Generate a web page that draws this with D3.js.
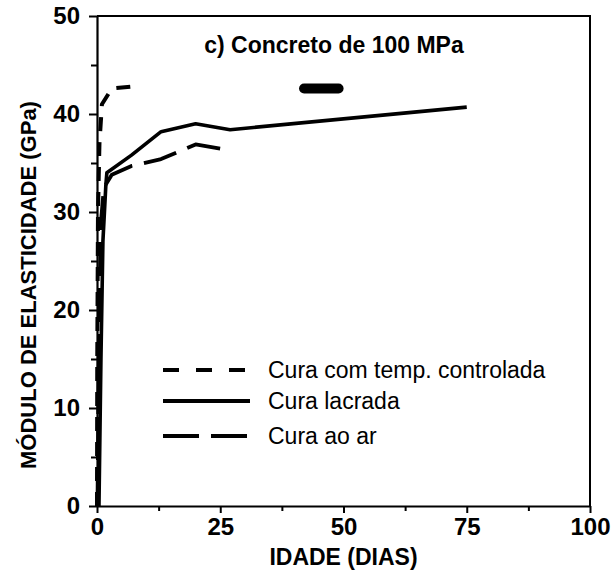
<!DOCTYPE html>
<html>
<head>
<meta charset="utf-8">
<script src="https://cdn.jsdelivr.net/npm/d3@7"></script>
<style>
  body { margin: 0; background: #fff; }
  svg text { font-family: "Liberation Sans", Arial, sans-serif; fill: #000; }
</style>
</head>
<body>
<div id="chart"></div>
<script>
// Values (days, GPa)
const controlledDays = [0, 0.05, 0.2, 0.5, 1, 3, 7];
const controlledE = [0, 15, 30, 37, 41, 42.6, 42.8];
const sealedDays = [0.4, 0.8, 1.2, 1.8, 2, 7, 13, 20, 27, 75];
const sealedE = [0, 15, 27, 32.8, 34, 35.8, 38.2, 39, 38.4, 40.7];
const airDays = [0.1, 0.4, 0.8, 1.4, 3, 7, 13, 20, 27];
const airE = [0, 18, 29, 32.5, 33.8, 34.7, 35.4, 36.9, 36.3];
// stray blob in the scan, around 45 days
const blobDays = [42, 49];
const blobE = [42.6, 42.6];

const xTicks = [0, 25, 50, 75, 100];
const xMinor = [12.5, 37.5, 62.5, 87.5];
const yTicks = [0, 10, 20, 30, 40, 50];
const yMinor = [5, 15, 25, 35, 45];

const legendLabels = ['Cura com temp. controlada', 'Cura lacrada', 'Cura ao ar'];

const WIDTH = 612;
const HEIGHT = 576;
const MARGIN = { left: 97, right: 22, top: 16, bottom: 70 };

const svg = d3.select('#chart')
  .append('svg')
  .attr('width', WIDTH)
  .attr('height', HEIGHT);

const x = d3.scaleLinear()
  .domain([0, 100])
  .range([MARGIN.left, WIDTH - MARGIN.right]);

const y = d3.scaleLinear()
  .domain([0, 50])
  .range([HEIGHT - MARGIN.bottom, MARGIN.top]);

// frame (top and right borders)
svg.append('path')
  .attr('d', `M${x(0)},${y(50)}H${x(100)}V${y(0)}`)
  .attr('fill', 'none')
  .attr('stroke', '#000')
  .attr('stroke-width', 2);

// axes
function styleAxis (g) {
  g.select('.domain').attr('stroke-width', 2.2);
  g.selectAll('.tick line').attr('stroke-width', 2);
  g.selectAll('.tick text')
    .style('font-size', '24px')
    .style('font-weight', 'bold');
}

svg.append('g')
  .attr('transform', `translate(0,${y(0)})`)
  .call(d3.axisBottom(x).tickValues(xTicks).tickSize(7).tickPadding(5).tickSizeOuter(0))
  .call(styleAxis);

svg.append('g')
  .attr('transform', `translate(0,${y(0)})`)
  .call(d3.axisBottom(x).tickValues(xMinor).tickSize(5).tickFormat('').tickSizeOuter(0))
  .call(g => g.select('.domain').remove())
  .call(g => g.selectAll('.tick line').attr('stroke-width', 2));

svg.append('g')
  .attr('transform', `translate(${x(0)},0)`)
  .call(d3.axisLeft(y).tickValues(yTicks).tickSize(8).tickPadding(9).tickSizeOuter(0))
  .call(styleAxis);

svg.append('g')
  .attr('transform', `translate(${x(0)},0)`)
  .call(d3.axisLeft(y).tickValues(yMinor).tickSize(6).tickFormat('').tickSizeOuter(0))
  .call(g => g.select('.domain').remove())
  .call(g => g.selectAll('.tick line').attr('stroke-width', 2));

// axis titles
svg.append('text')
  .attr('x', (x(0) + x(100)) / 2)
  .attr('y', 565)
  .attr('text-anchor', 'middle')
  .style('font-size', '23px')
  .style('font-weight', 'bold')
  .text('IDADE (DIAS)');

svg.append('text')
  .attr('transform', `translate(36,${(y(0) + y(50)) / 2 + 24}) rotate(-90)`)
  .attr('text-anchor', 'middle')
  .style('font-size', '22px')
  .style('font-weight', 'bold')
  .text('MÓDULO DE ELASTICIDADE (GPa)');

svg.append('text')
  .attr('x', 334)
  .attr('y', 53)
  .attr('text-anchor', 'middle')
  .style('font-size', '23px')
  .style('font-weight', 'bold')
  .text('c) Concreto de 100 MPa');

// curves
const line = d3.line()
  .x(d => x(d[0]))
  .y(d => y(d[1]));

const series = [
  { days: controlledDays, vals: controlledE, dash: '14,11', width: 4 },
  { days: sealedDays, vals: sealedE, dash: null, width: 3.6 },
  { days: airDays, vals: airE, dash: '34,12', width: 3.8 }
];

svg.append('g')
  .selectAll('path')
  .data(series)
  .join('path')
  .attr('d', s => line(s.days.map((d, i) => [d, s.vals[i]])))
  .attr('fill', 'none')
  .attr('stroke', '#000')
  .attr('stroke-width', s => s.width)
  .attr('stroke-dasharray', s => s.dash)
  .attr('stroke-linejoin', 'round');

svg.append('path')
  .attr('d', line(blobDays.map((d, i) => [d, blobE[i]])))
  .attr('stroke', '#000')
  .attr('stroke-width', 10)
  .attr('stroke-linecap', 'round');

// legend
const legend = svg.append('g');
const legendY = [370, 401, 436];
const legendDash = ['16,17', null, '36,12'];

legend.selectAll('line')
  .data(legendLabels)
  .join('line')
  .attr('x1', 163)
  .attr('x2', 250)
  .attr('y1', (d, i) => legendY[i])
  .attr('y2', (d, i) => legendY[i])
  .attr('stroke', '#000')
  .attr('stroke-width', 4)
  .attr('stroke-dasharray', (d, i) => legendDash[i]);

legend.selectAll('text')
  .data(legendLabels)
  .join('text')
  .attr('x', 268)
  .attr('y', (d, i) => legendY[i] + 8)
  .style('font-size', '23px')
  .text(d => d);
</script>
</body>
</html>
